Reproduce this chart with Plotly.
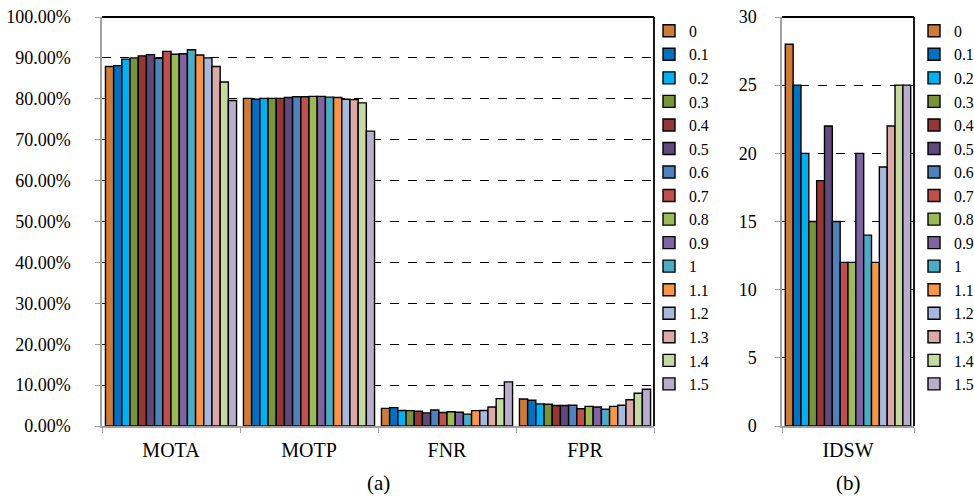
import plotly.graph_objects as go

series_names = ["0", "0.1", "0.2", "0.3", "0.4", "0.5", "0.6", "0.7",
                "0.8", "0.9", "1", "1.1", "1.2", "1.3", "1.4", "1.5"]
colors = ["#CF7B37", "#0070C0", "#00B0F0", "#77933C", "#953735", "#604A7B",
          "#4F81BD", "#C0504D", "#9BBB59", "#8064A2", "#4BACC6", "#F79646",
          "#A6B9DC", "#DBA9A8", "#C6D9A0", "#B9ADCE"]

metrics_a = ["MOTA", "MOTP", "FNR", "FPR"]
mota = [87.9, 88.1, 89.7, 90.0, 90.5, 90.8, 89.9, 91.6, 90.9, 91.0, 92.0, 90.7, 90.0, 87.9, 84.1, 79.6]
motp = [80.1, 79.9, 80.1, 80.1, 80.1, 80.3, 80.5, 80.5, 80.6, 80.6, 80.4, 80.3, 79.9, 79.8, 79.0, 72.1]
fnr = [4.3, 4.5, 3.8, 3.75, 3.6, 3.2, 3.9, 3.3, 3.5, 3.35, 2.9, 3.75, 3.8, 4.65, 6.7, 10.8]
fpr = [6.6, 6.3, 5.4, 5.3, 5.0, 5.0, 5.06, 4.2, 4.8, 4.65, 4.1, 4.8, 5.06, 6.4, 8.0, 9.0]

metrics_b = ["IDSW"]
idsw = [28, 25, 20, 15, 18, 22, 15, 12, 12, 20, 14, 12, 19, 22, 25, 25]

W, H = 974, 496
FONT = "'Liberation Serif', 'Times New Roman', Tinos, 'DejaVu Serif', serif"

fig = go.Figure()
for i, name in enumerate(series_names):
    fig.add_trace(go.Bar(
        x=metrics_a, y=[mota[i], motp[i], fnr[i], fpr[i]], name=name,
        marker=dict(color=colors[i], line=dict(color="black", width=1.4)),
        xaxis="x", yaxis="y", legend="legend"))
for i, name in enumerate(series_names):
    fig.add_trace(go.Bar(
        x=metrics_b, y=[idsw[i]], name=name,
        marker=dict(color=colors[i], line=dict(color="black", width=1.4)),
        xaxis="x2", yaxis="y2", legend="legend2"))

def px_x(v):
    return v / W

def px_y(v):
    return 1 - v / H

ya = [px_y(426), px_y(17)]
axis_common = dict(showline=True, linecolor="#A0A0A0", linewidth=1.5,
                   ticks="outside", tickcolor="#A0A0A0", ticklen=5, tickwidth=1.3,
                   zeroline=False, automargin=False)

fig.update_layout(
    width=W, height=H, margin=dict(l=0, r=0, t=0, b=0, autoexpand=False),
    paper_bgcolor="white", plot_bgcolor="white",
    barmode="group", bargap=0.05, bargroupgap=0,
    font=dict(family=FONT, color="black", size=17),
    xaxis=dict(domain=[px_x(102), px_x(654)], tickson="boundaries",
               tickfont=dict(family=FONT, size=20), ticklabelstandoff=5,
               anchor="y", **axis_common),
    yaxis=dict(domain=ya, range=[0, 100], dtick=10, ticksuffix="%", tickformat=".2f",
               showgrid=True, gridcolor="black", griddash="dash", gridwidth=1.3,
               tickfont=dict(family=FONT, size=18), ticklabelstandoff=21,
               anchor="x", **axis_common),
    xaxis2=dict(domain=[px_x(782), px_x(914)], tickson="boundaries",
                tickfont=dict(family=FONT, size=20), ticklabelstandoff=5,
                anchor="y2", **axis_common),
    yaxis2=dict(domain=ya, range=[0, 30], dtick=5,
                showgrid=True, gridcolor="black", griddash="dash", gridwidth=1.3,
                tickfont=dict(family=FONT, size=18), ticklabelstandoff=15,
                anchor="x2", **axis_common),
    legend=dict(x=px_x(649), y=px_y(14), xanchor="left", yanchor="top",
                font=dict(family=FONT, size=15.8), bgcolor="rgba(0,0,0,0)",
                itemclick=False, itemdoubleclick=False),
    legend2=dict(x=px_x(914), y=px_y(14), xanchor="left", yanchor="top",
                 font=dict(family=FONT, size=15.8), bgcolor="rgba(0,0,0,0)",
                 itemclick=False, itemdoubleclick=False),
    showlegend=True,
)

# black frame on the top and right edges of each plot area
for xr, yr in (("x domain", "y domain"), ("x2 domain", "y2 domain")):
    fig.add_shape(type="line", xref=xr, yref=yr, x0=0, x1=1, y0=1, y1=1,
                  line=dict(color="black", width=1.8))
    fig.add_shape(type="line", xref=xr, yref=yr, x0=1, x1=1, y0=0, y1=1,
                  line=dict(color="black", width=1.8))

fig.add_annotation(text="(a)", x=px_x(378), y=px_y(483), xref="paper", yref="paper",
                   xanchor="center", yanchor="middle",
                   showarrow=False, font=dict(family=FONT, size=21))
fig.add_annotation(text="(b)", x=px_x(848), y=px_y(483), xref="paper", yref="paper",
                   xanchor="center", yanchor="middle",
                   showarrow=False, font=dict(family=FONT, size=21))

fig.write_html("out.html", config={"displayModeBar": False},
               post_script="document.body.style.margin='0';document.body.style.overflow='hidden';")
